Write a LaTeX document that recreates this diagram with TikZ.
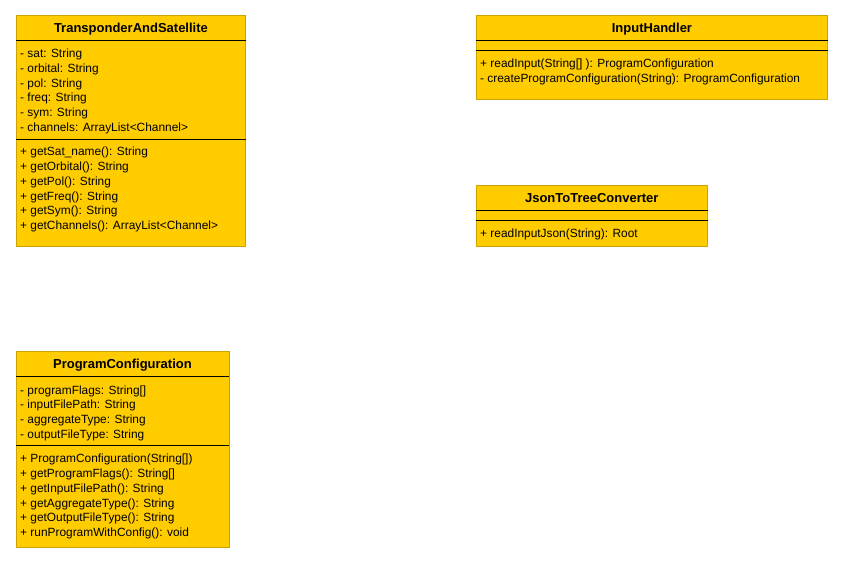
\documentclass[tikz,border=0pt]{standalone}
\usepackage{fontspec}
\setmainfont{Liberation Sans}
\usepackage{xcolor}
\usetikzlibrary{positioning,calc}

\definecolor{classfill}{RGB}{255,204,0}
\definecolor{classline}{RGB}{204,163,0}

\begin{document}
\begin{tikzpicture}[
    x=1pt, y=1pt,
    classbox/.style={rectangle, draw=classline, fill=classfill, line width=0.9pt, anchor=north west, inner sep=0pt},
    classname/.style={anchor=base, inner sep=0pt, font=\fontsize{13}{15}\selectfont\bfseries},
    members/.style={anchor=north west, align=left, inner sep=0pt, font=\fontsize{11.9}{14.7}\selectfont},
    sepline/.style={draw=black, line width=0.9pt}
]
    \useasboundingbox (0,0) rectangle (844,-563);

    % TransponderAndSatellite
    \node[classbox, minimum width=229pt, minimum height=230.5pt] (ts) at (16,-15) {};
    \node[classname] (tsname) at ([yshift=-17.7pt]ts.north) {TransponderAndSatellite};
    \draw[sepline] ([yshift=-25.7pt]ts.north west) -- ([yshift=-25.7pt]ts.north east);
    \node[members] (tsattr) at ([xshift=4pt, yshift=-33.9pt]ts.north west)
        {- sat: String\\- orbital: String\\- pol: String\\- freq: String\\- sym: String\\- channels: ArrayList<Channel>};
    \draw[sepline] ([yshift=-124.3pt]ts.north west) -- ([yshift=-124.3pt]ts.north east);
    \node[members] (tsops) at ([xshift=4pt, yshift=-132.1pt]ts.north west)
        {+ getSat\_name(): String\\+ getOrbital(): String\\+ getPol(): String\\+ getFreq(): String\\+ getSym(): String\\+ getChannels(): ArrayList<Channel>};

    % InputHandler
    \node[classbox, minimum width=351pt, minimum height=84.3pt] (ih) at (476,-15) {};
    \node[classname] (ihname) at ([yshift=-17.7pt]ih.north) {InputHandler};
    \draw[sepline] ([yshift=-25.7pt]ih.north west) -- ([yshift=-25.7pt]ih.north east);
    \draw[sepline] ([yshift=-35.7pt]ih.north west) -- ([yshift=-35.7pt]ih.north east);
    \node[members] (ihops) at ([xshift=4pt, yshift=-44.1pt]ih.north west)
        {+ readInput(String[] ): ProgramConfiguration\\- createProgramConfiguration(String): ProgramConfiguration};

    % JsonToTreeConverter
    \node[classbox, minimum width=230.7pt, minimum height=60.3pt] (jt) at (476,-185.3) {};
    \node[classname] (jtname) at ([yshift=-17.4pt]jt.north) {JsonToTreeConverter};
    \draw[sepline] ([yshift=-25pt]jt.north west) -- ([yshift=-25pt]jt.north east);
    \draw[sepline] ([yshift=-35pt]jt.north west) -- ([yshift=-35pt]jt.north east);
    \node[members] (jtops) at ([xshift=4pt, yshift=-43.8pt]jt.north west)
        {+ readInputJson(String): Root};

    % ProgramConfiguration
    \node[classbox, minimum width=213pt, minimum height=195.4pt] (pc) at (15.5,-351.3) {};
    \node[classname] (pcname) at ([yshift=-17.4pt]pc.north) {ProgramConfiguration};
    \draw[sepline] ([yshift=-24.7pt]pc.north west) -- ([yshift=-24.7pt]pc.north east);
    \node[members] (pcattr) at ([xshift=4.5pt, yshift=-34.1pt]pc.north west)
        {- programFlags: String[]\\- inputFilePath: String\\- aggregateType: String\\- outputFileType: String};
    \draw[sepline] ([yshift=-94pt]pc.north west) -- ([yshift=-94pt]pc.north east);
    \node[members] (pcops) at ([xshift=4.5pt, yshift=-102.8pt]pc.north west)
        {+ ProgramConfiguration(String[])\\+ getProgramFlags(): String[]\\+ getInputFilePath(): String\\+ getAggregateType(): String\\+ getOutputFileType(): String\\+ runProgramWithConfig(): void};
\end{tikzpicture}
\end{document}
